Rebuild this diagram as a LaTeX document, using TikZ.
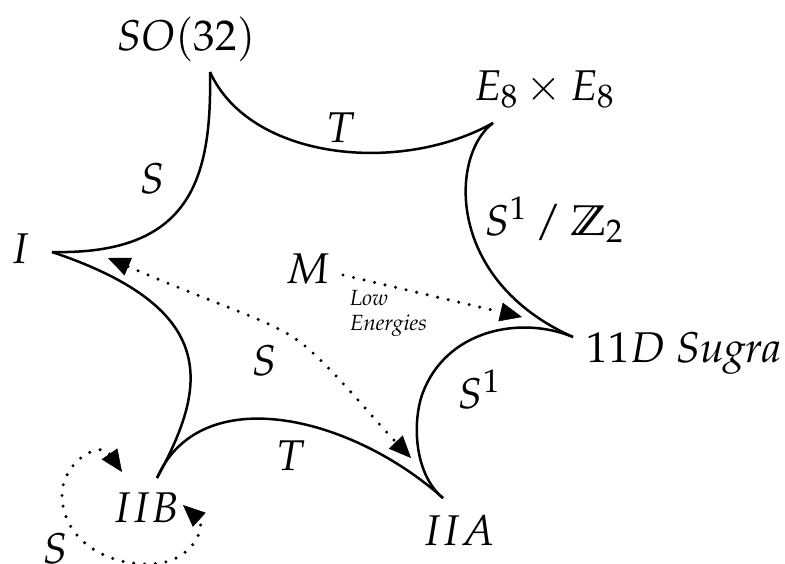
\documentclass[tikz,border=0pt]{standalone}
\usepackage[T1]{fontenc}
\usepackage{mathpazo}
\usetikzlibrary{arrows.meta}

\begin{document}
\begin{tikzpicture}[
  x=1pt, y=-1pt,
  >={Triangle[length=22pt, width=19pt, line width=0.5pt]},
  lbl/.style={anchor=base, inner sep=0pt, font=\fontsize{43}{50}\selectfont},
  note/.style={anchor=north west, inner sep=0pt, align=left, font=\fontsize{22}{25}\selectfont\itshape},
  dual/.style={line width=2.5pt},
  dots/.style={line width=3.4pt, line cap=round, dash pattern=on 0pt off 10.8pt}
]
  \useasboundingbox (0,0) rectangle (785,563);

  % Theories
  \node[lbl] (so32)  at (186,50)  {$SO(32)$};
  \node[lbl] (e8e8)  at (544,100) {$E_8\times E_8$};
  \node[lbl] (sugra) at (684,362) {$11D$~\textit{Sugra}};
  \node[lbl] (iia)   at (459,545) {$IIA$};
  \node[lbl] (iib)   at (146,522) {$IIB$};
  \node[lbl] (typei) at (20,263)  {$I$};
  \node[lbl] (m)     at (308,283) {$M$};
  \node[note] (low)  at (350,290) {Low\\Energies};

  % Cusps
  \coordinate (cso) at (210,72);
  \coordinate (ce8) at (493,123);
  \coordinate (csu) at (573,337);
  \coordinate (cia) at (443,498);
  \coordinate (cib) at (157,478);
  \coordinate (ci)  at (52,252);

  % Dualities
  \draw[dual] (ci) .. controls +(138,3) and +(2,108) .. (cso);
  \draw[dual] (cso) .. controls +(40,88) and +(-93,52) .. (ce8);
  \draw[dual] (ce8) .. controls +(-43,32) and +(-128,-57) .. (csu);
  \draw[dual] (csu) .. controls +(-53,-22) and (445,330) .. (422,395)
    .. controls (412,425) and (415,475) .. (cia);
  \draw[dual] (cia) .. controls +(-93,-83) and +(43,-98) .. (cib);
  \draw[dual] (cib) .. controls +(48,-88) and +(173,58) .. (ci);

  % Duality labels
  \node[lbl] (tso)  at (341,142) {$T$};
  \node[lbl] (sso)  at (152,193) {$S$};
  \node[lbl] (orb)  at (554,235) {$S^1\:/\:\mathbb{Z}_2$};
  \node[lbl] (circ) at (479,408) {$S^1$};
  \node[lbl] (tib)  at (291,470) {$T$};
  \node[lbl] (smid) at (264,375) {$S$};
  \node[lbl] (sib)  at (55,563)  {$S$};

  % Dotted maps
  \coordinate (iend)   at (108,258);
  \coordinate (iiaend) at (411,458);
  \coordinate (mout)   at (343,275);
  \coordinate (sugin)  at (522,317);
  \coordinate (ibtop)  at (122,472);
  \coordinate (ibbot)  at (183,505);
  \draw[dots, <->] (iend) .. controls (230,310) and (270,320) .. (300,342)
    .. controls (330,365) and (370,415) .. (iiaend);
  \draw[dots, ->] (mout) -- (sugin);
  \draw[dots, <->] (ibtop) .. controls (100,440) and (62,462) .. (62,495)
    .. controls (62,535) and (100,565) .. (150,564)
    .. controls (195,563) and (205,525) .. (ibbot);
\end{tikzpicture}
\end{document}
